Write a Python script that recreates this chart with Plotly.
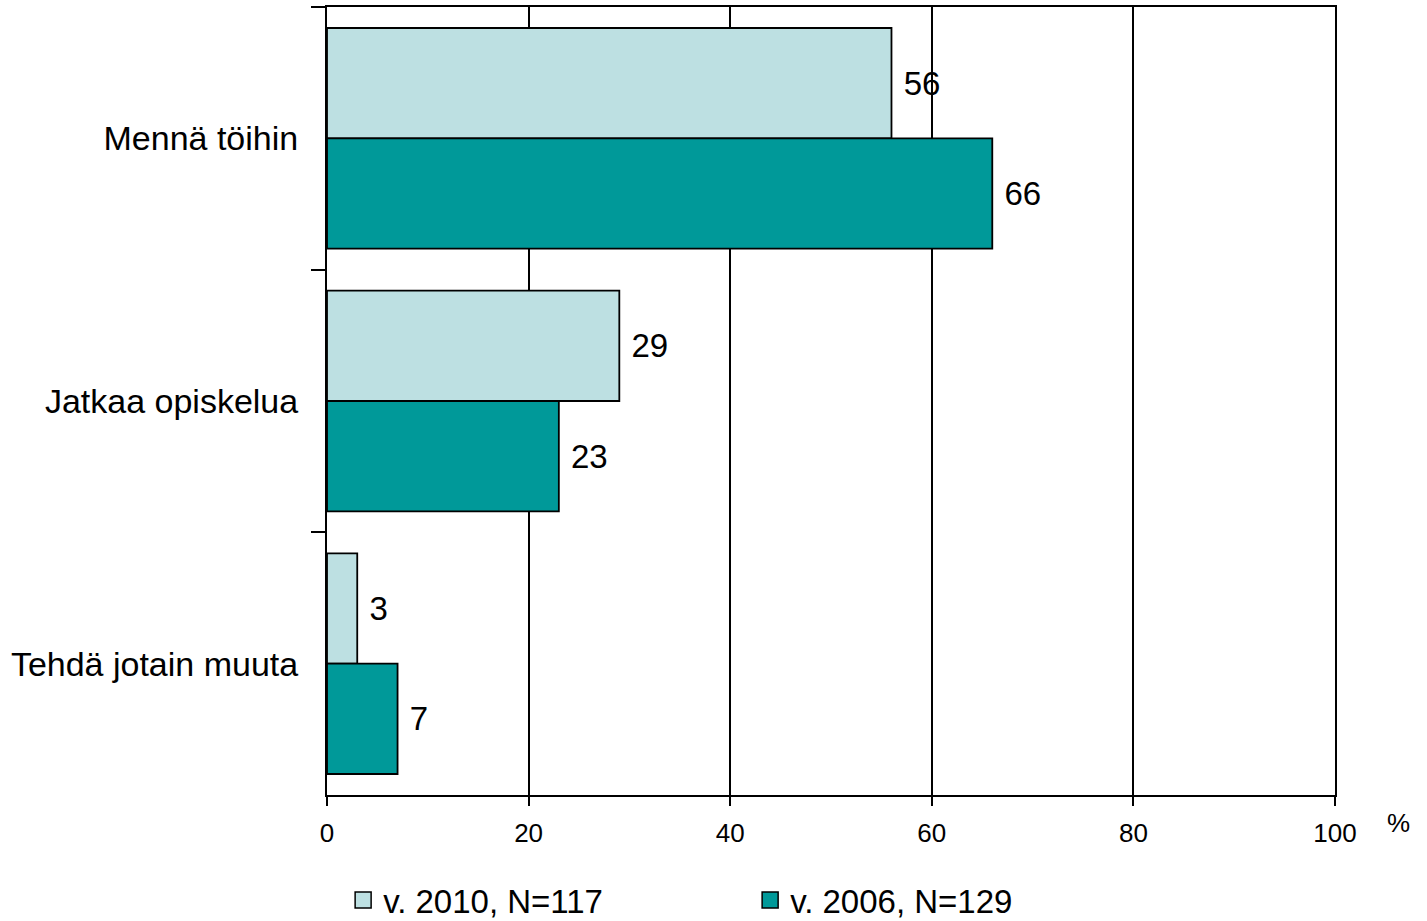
import plotly.graph_objects as go

categories = ["Mennä töihin", "Jatkaa opiskelua", "Tehdä jotain muuta"]
series_names = ["v. 2010, N=117", "v. 2006, N=129"]
values_2010 = [56, 29, 3]
values_2006 = [66, 23, 7]
x_ticks = [0, 20, 40, 60, 80, 100]

colors = ["#BDE0E2", "#009999"]
FONT = "Liberation Sans, Arial, sans-serif"

fig = go.Figure()
for name, vals, col in zip(series_names, [values_2010, values_2006], colors):
    fig.add_trace(go.Bar(
        y=categories, x=vals, orientation="h", name=name,
        marker=dict(color=col, line=dict(color="black", width=1.8)),
        text=[f" {v}" for v in vals], textposition="outside",
        textfont=dict(size=33, color="black", family=FONT),
        cliponaxis=False, constraintext="none", showlegend=False,
    ))
for name, col in zip(series_names, colors):
    fig.add_trace(go.Scatter(
        x=[None], y=[None], mode="markers", name=name,
        marker=dict(symbol="square", size=16, color=col,
                    line=dict(color="black", width=1.5)),
    ))

fig.update_layout(
    width=1427, height=921,
    margin=dict(l=327, r=92, t=7, b=126),
    paper_bgcolor="white", plot_bgcolor="white",
    barmode="group", bargap=0.16, bargroupgap=0,
    font=dict(family=FONT, color="black"),
    xaxis=dict(range=[0, 100], tickvals=x_ticks, ticks="outside", ticklen=9,
               tickwidth=2, tickcolor="black", automargin=False,
               ticklabelstandoff=5,
               showgrid=True, gridcolor="black", gridwidth=2,
               showline=True, linecolor="black", linewidth=2, mirror=True,
               zeroline=False, tickfont=dict(size=26, family=FONT)),
    yaxis=dict(categoryorder="array", categoryarray=categories,
               autorange="reversed", tickson="boundaries", ticks="outside",
               ticklen=14, tickwidth=2, tickcolor="black", automargin=False,
               ticklabelstandoff=20,
               showline=True, linecolor="black", linewidth=2, mirror=True,
               showgrid=False, tickfont=dict(size=34, family=FONT)),
    legend=dict(orientation="h", x=0.016, xanchor="left",
                yref="container", y=1 - 900 / 921, yanchor="middle",
                font=dict(size=33, family=FONT), entrywidth=362, entrywidthmode="pixels",
                bgcolor="rgba(0,0,0,0)"),
    annotations=[dict(text="%", xref="paper", yref="paper", x=(1398 - 327) / 1008,
                      y=(795 - 823) / 788, xanchor="center", yanchor="middle",
                      showarrow=False, font=dict(size=26, family=FONT))],
)
fig.write_html("out.html", config={"displayModeBar": False},
               post_script="document.body.style.margin='0';document.body.style.overflow='hidden';")
